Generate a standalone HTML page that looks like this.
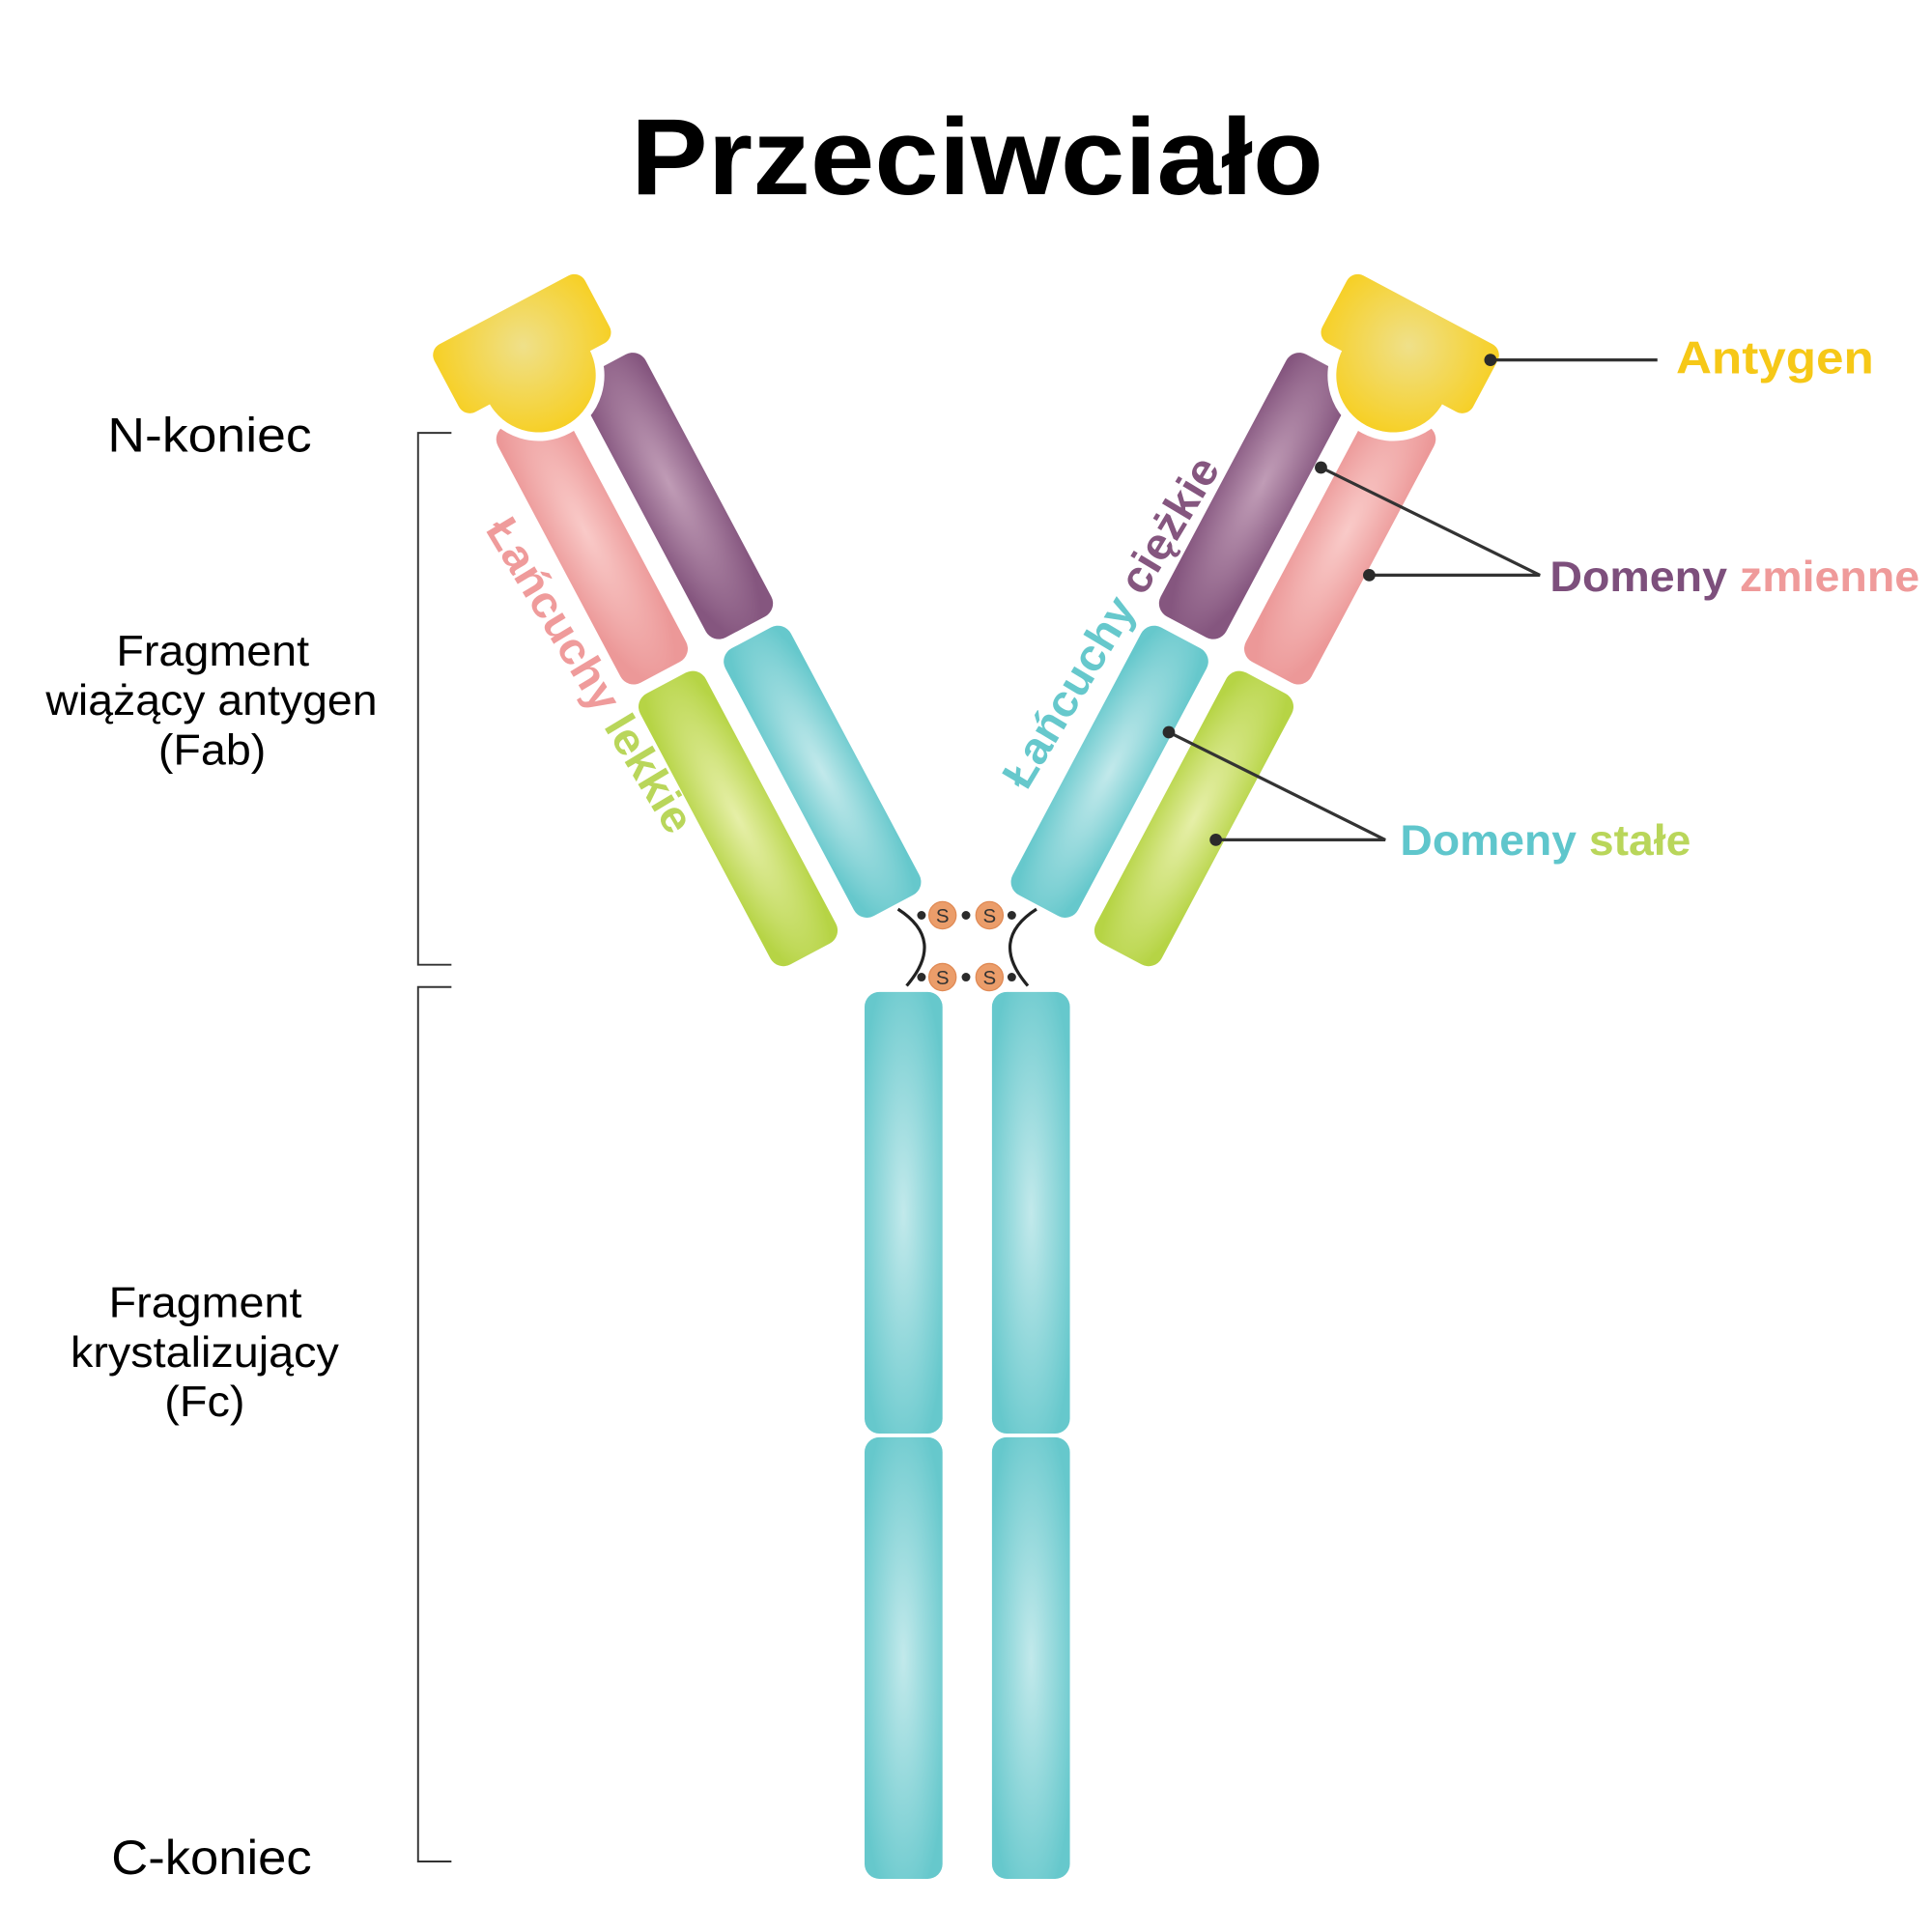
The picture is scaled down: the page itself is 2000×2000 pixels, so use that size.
<!DOCTYPE html>
<html><head><meta charset="utf-8"><style>
html,body{margin:0;padding:0;background:#fff;}
svg{display:block;}
text{font-family:"Liberation Sans",sans-serif;}
</style></head><body>
<svg width="2000" height="2000" viewBox="0 0 1562 1562" xmlns="http://www.w3.org/2000/svg">
<defs>
<radialGradient id="gy" gradientUnits="userSpaceOnUse" cx="-52" cy="-45" r="85"><stop offset="0" stop-color="#efe08a"/><stop offset="1" stop-color="#f8cd14"/></radialGradient>
<radialGradient id="gp" cx="0.5" cy="0.45" r="0.6"><stop offset="0" stop-color="#c09cb6"/><stop offset="1" stop-color="#85567f"/></radialGradient>
<radialGradient id="gk" cx="0.5" cy="0.45" r="0.6"><stop offset="0" stop-color="#f9cac8"/><stop offset="1" stop-color="#ec9898"/></radialGradient>
<radialGradient id="gg" cx="0.5" cy="0.5" r="0.6"><stop offset="0" stop-color="#e6efa8"/><stop offset="1" stop-color="#b6d445"/></radialGradient>
<radialGradient id="gt" cx="0.5" cy="0.5" r="0.6"><stop offset="0" stop-color="#c2e9eb"/><stop offset="1" stop-color="#66c8cc"/></radialGradient>
<g id="arm">
  <rect x="-30" y="0" width="60" height="240" rx="12" fill="url(#gp)"/>
  <rect x="-30" y="250" width="60" height="245" rx="12" fill="url(#gt)"/>
  <rect x="-108" y="5" width="60" height="235" rx="12" fill="url(#gk)"/>
  <rect x="-108" y="250" width="60" height="248" rx="12" fill="url(#gg)"/>
  <g fill="#fff" stroke="#fff" stroke-width="14" stroke-linejoin="round">
    <rect x="-121" y="-78" width="138" height="60" rx="10"/>
    <circle cx="-52" cy="-18" r="46"/>
  </g>
  <g fill="url(#gy)">
    <rect x="-121" y="-78" width="138" height="62" rx="10"/>
    <circle cx="-52" cy="-18" r="46"/>
  </g>
</g>
</defs>

<text x="790" y="157" font-size="88" font-weight="bold" text-anchor="middle" fill="#000" textLength="560" lengthAdjust="spacingAndGlyphs">Przeciwciało</text>

<g transform="translate(490,295) rotate(-28)"><use href="#arm"/></g>
<g transform="translate(1072,295) scale(-1,1) rotate(-28)"><use href="#arm"/></g>

<rect x="699" y="802" width="63" height="357" rx="12" fill="url(#gt)"/>
<rect x="699" y="1162" width="63" height="357" rx="12" fill="url(#gt)"/>
<rect x="802" y="802" width="63" height="357" rx="12" fill="url(#gt)"/>
<rect x="802" y="1162" width="63" height="357" rx="12" fill="url(#gt)"/>

<g fill="none" stroke="#222" stroke-width="2.5">
<path d="M726,735 Q765,760 733,797"/>
<path d="M838,735 Q799,760 831,797"/>
</g>
<g fill="#2b2b2b">
<circle cx="745" cy="740" r="3.5"/><circle cx="781" cy="740" r="3.5"/><circle cx="818" cy="740" r="3.5"/>
<circle cx="745" cy="790" r="3.5"/><circle cx="781" cy="790" r="3.5"/><circle cx="818" cy="790" r="3.5"/>
</g>
<g fill="#eb9d6a" stroke="#e08a55" stroke-width="1">
<circle cx="762" cy="740" r="11"/><circle cx="800" cy="740" r="11"/>
<circle cx="762" cy="790" r="11"/><circle cx="800" cy="790" r="11"/>
</g>
<g font-size="16" fill="#333" text-anchor="middle">
<text x="762" y="746">S</text><text x="800" y="746">S</text>
<text x="762" y="796">S</text><text x="800" y="796">S</text>
</g>

<g fill="none" stroke="#333" stroke-width="1.5">
<path d="M365,350 H338 V780 H365"/>
<path d="M365,798 H338 V1505 H365"/>
</g>

<g fill="#000">
<text x="87" y="365" font-size="39" textLength="165" lengthAdjust="spacingAndGlyphs">N-koniec</text>
<text x="94" y="538" font-size="35" textLength="156" lengthAdjust="spacingAndGlyphs">Fragment</text>
<text x="37" y="578" font-size="35" textLength="268" lengthAdjust="spacingAndGlyphs">wiążący antygen</text>
<text x="128" y="618" font-size="35" textLength="87" lengthAdjust="spacingAndGlyphs">(Fab)</text>
<text x="88" y="1065" font-size="35" textLength="156" lengthAdjust="spacingAndGlyphs">Fragment</text>
<text x="57" y="1105" font-size="35" textLength="217" lengthAdjust="spacingAndGlyphs">krystalizujący</text>
<text x="133" y="1145" font-size="35" textLength="65" lengthAdjust="spacingAndGlyphs">(Fc)</text>
<text x="90" y="1515" font-size="39" textLength="162" lengthAdjust="spacingAndGlyphs">C-koniec</text>
</g>

<text transform="translate(392,428) rotate(59)" font-size="36" font-weight="bold" textLength="290" lengthAdjust="spacingAndGlyphs"><tspan fill="#ef9b9b">Łańcuchy </tspan><tspan fill="#b9d65a">lekkie</tspan></text>
<text transform="translate(830,640) rotate(-59)" font-size="36" font-weight="bold" textLength="305" lengthAdjust="spacingAndGlyphs"><tspan fill="#66c8cc">Łańcuchy </tspan><tspan fill="#85567f">ciężkie</tspan></text>

<g stroke="#333" stroke-width="2.5" fill="none">
<path d="M1205,291 H1340"/>
<path d="M1068,378 L1245,465 L1107,465"/>
<path d="M945,592 L1120,679 L983,679"/>
</g>
<g fill="#2b2b2b">
<circle cx="1205" cy="291" r="5"/>
<circle cx="1068" cy="378" r="5"/>
<circle cx="1107" cy="465" r="5"/>
<circle cx="945" cy="592" r="5"/>
<circle cx="983" cy="679" r="5"/>
</g>
<text x="1355" y="302" font-size="37" font-weight="bold" fill="#f6c817" textLength="160" lengthAdjust="spacingAndGlyphs">Antygen</text>
<text x="1253" y="478" font-size="35" font-weight="bold" textLength="299" lengthAdjust="spacingAndGlyphs"><tspan fill="#7d4f7c">Domeny </tspan><tspan fill="#ef9a9a">zmienne</tspan></text>
<text x="1132" y="691" font-size="35" font-weight="bold" textLength="235" lengthAdjust="spacingAndGlyphs"><tspan fill="#5fc6cc">Domeny </tspan><tspan fill="#b9d65a">stałe</tspan></text>
</svg>
</body></html>
